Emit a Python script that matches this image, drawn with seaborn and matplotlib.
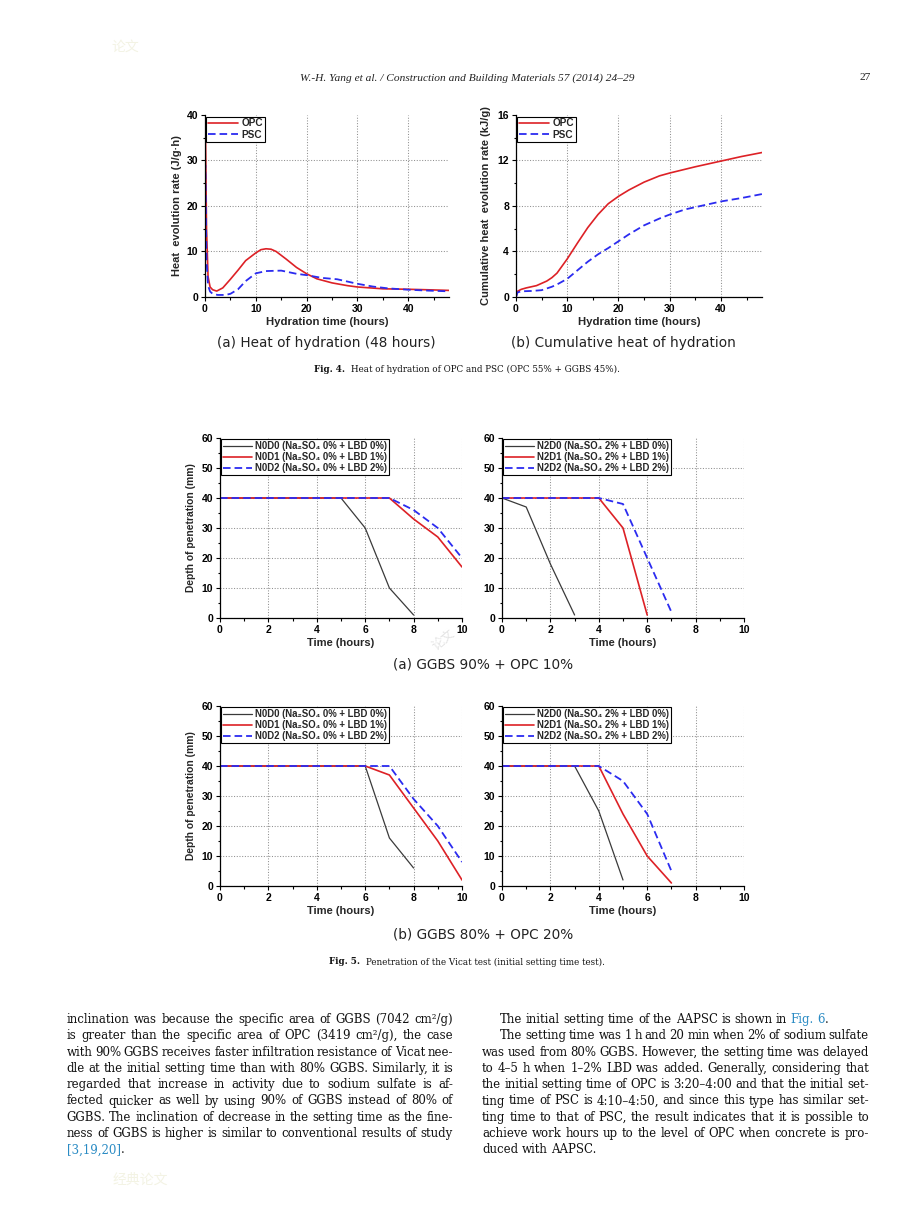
import pandas as pd
import matplotlib
matplotlib.use('Agg')
import matplotlib.pyplot as plt
import seaborn as sns
from matplotlib.ticker import MultipleLocator

# Fig. 4 (a) heat evolution rate (J/g.h)
t_rate_opc = [0, 0.05, 0.15, 0.3, 0.6, 1.0, 1.5, 2.3, 3.5, 5, 6.5, 8, 10, 11, 12, 13, 14, 16, 18, 20, 22, 25, 28, 30, 35, 40, 45, 48]
rate_opc = [0, 39, 30, 15, 4.5, 2.2, 1.6, 1.3, 2.0, 3.9, 5.9, 8.0, 9.7, 10.4, 10.6, 10.5, 10.0, 8.3, 6.5, 5.1, 4.0, 3.1, 2.5, 2.2, 1.8, 1.7, 1.55, 1.45]
t_rate_psc = [0, 0.05, 0.15, 0.3, 0.6, 1.0, 1.5, 2.5, 4, 5, 6.5, 8, 10, 12, 15, 18, 20, 23, 26, 28, 30, 33, 36, 40, 44, 48]
rate_psc = [0, 29, 20, 8, 2.5, 1.2, 0.7, 0.45, 0.45, 0.7, 1.7, 3.5, 5.2, 5.7, 5.8, 5.1, 4.8, 4.2, 3.9, 3.4, 2.9, 2.3, 1.9, 1.6, 1.4, 1.25]

# Fig. 4 (b) cumulative heat (kJ/g)
t_cum_opc = [0, 0.3, 1, 2, 4, 5, 6, 7, 8, 10, 12, 14, 16, 18, 20, 22, 25, 28, 30, 35, 40, 44, 48]
cum_opc = [0, 0.5, 0.67, 0.8, 1.0, 1.2, 1.4, 1.7, 2.1, 3.35, 4.75, 6.1, 7.25, 8.2, 8.85, 9.4, 10.1, 10.65, 10.9, 11.45, 11.95, 12.35, 12.7]
t_cum_psc = [0, 0.3, 1, 3, 5, 7, 8, 10, 12, 14, 16, 18, 20, 22, 25, 28, 30, 33, 36, 40, 44, 48]
cum_psc = [0, 0.4, 0.5, 0.53, 0.6, 0.9, 1.1, 1.6, 2.35, 3.1, 3.75, 4.3, 4.9, 5.5, 6.3, 6.9, 7.25, 7.7, 8.0, 8.4, 8.7, 9.05]

# Fig. 5 Vicat penetration depth (mm) vs time (hours)
g90_n0d0_t = [0, 5, 6, 7, 8]
g90_n0d0 = [40, 40, 30, 10, 1]
g90_n0d1_t = [0, 7, 8, 9, 10]
g90_n0d1 = [40, 40, 33, 27, 17]
g90_n0d2_t = [0, 7, 8, 9, 10]
g90_n0d2 = [40, 40, 36, 30, 20]
g90_n2d0_t = [0, 1, 2, 3]
g90_n2d0 = [40, 37, 18, 1]
g90_n2d1_t = [0, 4, 5, 6]
g90_n2d1 = [40, 40, 30, 1]
g90_n2d2_t = [0, 4, 5, 6, 7]
g90_n2d2 = [40, 40, 38, 20, 2]

g80_n0d0_t = [0, 6, 7, 8]
g80_n0d0 = [40, 40, 16, 6]
g80_n0d1_t = [0, 6, 7, 8, 9, 10]
g80_n0d1 = [40, 40, 37, 26, 15, 2]
g80_n0d2_t = [0, 7, 8, 9, 10]
g80_n0d2 = [40, 40, 29, 20, 8]
g80_n2d0_t = [0, 3, 4, 5]
g80_n2d0 = [40, 40, 25, 2]
g80_n2d1_t = [0, 4, 5, 6, 7]
g80_n2d1 = [40, 40, 24, 10, 1]
g80_n2d2_t = [0, 4, 5, 6, 7]
g80_n2d2 = [40, 40, 35, 24, 5]

n0_labels = ['N0D0 (Na\u2082SO\u2084 0% + LBD 0%)', 'N0D1 (Na\u2082SO\u2084 0% + LBD 1%)', 'N0D2 (Na\u2082SO\u2084 0% + LBD 2%)']
n2_labels = ['N2D0 (Na\u2082SO\u2084 2% + LBD 0%)', 'N2D1 (Na\u2082SO\u2084 2% + LBD 1%)', 'N2D2 (Na\u2082SO\u2084 2% + LBD 2%)']

left_par = [
    'inclination was because the specific area of GGBS (7042 cm\u00b2/g)',
    'is greater than the specific area of OPC (3419 cm\u00b2/g), the case',
    'with 90% GGBS receives faster infiltration resistance of Vicat nee-',
    'dle at the initial setting time than with 80% GGBS. Similarly, it is',
    'regarded that increase in activity due to sodium sulfate is af-',
    'fected quicker as well by using 90% of GGBS instead of 80% of',
    'GGBS. The inclination of decrease in the setting time as the fine-',
    'ness of GGBS is higher is similar to conventional results of study',
    '@[3,19,20]|.',
]
right_par = [
    'The initial setting time of the AAPSC is shown in @Fig. @6|.',
    'The setting time was 1 h and 20 min when 2% of sodium sulfate',
    'was used from 80% GGBS. However, the setting time was delayed',
    'to 4\u20135 h when 1\u20132% LBD was added. Generally, considering that',
    'the initial setting time of OPC is 3:20\u20134:00 and that the initial set-',
    'ting time of PSC is 4:10\u20134:50, and since this type has similar set-',
    'ting time to that of PSC, the result indicates that it is possible to',
    'achieve work hours up to the level of OPC when concrete is pro-',
    'duced with AAPSC.',
]

RED = '#dd2126'
BLUE = '#2b2bf0'
DARK = '#3a3a3a'
LINK = '#2a8bc4'
W, H = 920, 1227

sns.set_theme(style='ticks')
plt.rcParams['font.family'] = ['Liberation Sans', 'DejaVu Sans']
plt.rcParams['font.weight'] = 'bold'
plt.rcParams['axes.labelweight'] = 'bold'

fig = plt.figure(figsize=(9.2, 12.27), dpi=100)
fig.patch.set_facecolor('white')


def box(x0, y0, x1, y1):
    # pixel box (top-left origin) -> figure fraction rect
    return [x0 / W, 1 - y1 / H, (x1 - x0) / W, (y1 - y0) / H]


def style_axes(ax, xmax, xmaj, xmin, ymax, ymaj, ymin):
    ax.set_xlim(0, xmax)
    ax.set_ylim(0, ymax)
    ax.xaxis.set_major_locator(MultipleLocator(xmaj))
    ax.xaxis.set_minor_locator(MultipleLocator(xmin))
    ax.yaxis.set_major_locator(MultipleLocator(ymaj))
    ax.yaxis.set_minor_locator(MultipleLocator(ymin))
    ax.grid(True, which='major', color='#909090', linestyle=(0, (1, 1.6)), linewidth=0.75)
    ax.set_facecolor('white')
    for side in ['top', 'right']:
        ax.spines[side].set_visible(False)
    for side in ['left', 'bottom']:
        ax.spines[side].set_color('black')
        ax.spines[side].set_linewidth(0.9)
    ax.tick_params(which='both', direction='out', colors='black', labelsize=7.5, width=0.8, pad=2)
    ax.tick_params(which='major', length=3)
    ax.tick_params(which='minor', length=1.8)
    ax.set_axisbelow(True)
    # no dotted line along the top edge
    fig.canvas.draw()
    for tk in ax.yaxis.get_major_ticks():
        if abs(tk.get_loc() - ymax) < 1e-6:
            tk.gridline.set_visible(False)


def add_legend(ax, fs):
    leg = ax.legend(loc='upper left', frameon=True, fancybox=False, edgecolor='black',
                    fontsize=fs, handlelength=3.0, handletextpad=0.3, borderpad=0.2,
                    labelspacing=0.1, borderaxespad=0.15, framealpha=1)
    leg.get_frame().set_linewidth(0.8)


def draw(ax, t, v, color, lw, label, dashed=False):
    ls = (0, (4.2, 2.2)) if dashed else '-'
    sns.lineplot(x=t, y=v, ax=ax, color=color, linewidth=lw, linestyle=ls,
                 label=label, sort=False, estimator=None)


# ---- Fig. 4 ----
ax = fig.add_axes(box(205, 115, 449, 297))
draw(ax, t_rate_opc, rate_opc, RED, 1.2, 'OPC')
draw(ax, t_rate_psc, rate_psc, BLUE, 1.3, 'PSC', dashed=True)
style_axes(ax, 48, 10, 5, 40, 10, 5)
ax.set_xlabel('Hydration time (hours)', fontsize=8.2, labelpad=2)
ax.set_ylabel('Heat  evolution rate (J/g\u00b7h)', fontsize=8, labelpad=3)
add_legend(ax, 7.2)

ax = fig.add_axes(box(516, 115, 762, 297))
draw(ax, t_cum_opc, cum_opc, RED, 1.2, 'OPC')
draw(ax, t_cum_psc, cum_psc, BLUE, 1.3, 'PSC', dashed=True)
style_axes(ax, 48, 10, 5, 16, 4, 2)
ax.set_xlabel('Hydration time (hours)', fontsize=8.2, labelpad=2)
ax.set_ylabel('Cumulative heat  evolution rate (kJ/g)', fontsize=8, labelpad=5)
add_legend(ax, 7.2)

# ---- Fig. 5 ----
panels = [
    (box(220, 438, 462, 618), [(g90_n0d0_t, g90_n0d0), (g90_n0d1_t, g90_n0d1), (g90_n0d2_t, g90_n0d2)], n0_labels, True),
    (box(502, 438, 744, 618), [(g90_n2d0_t, g90_n2d0), (g90_n2d1_t, g90_n2d1), (g90_n2d2_t, g90_n2d2)], n2_labels, False),
    (box(220, 706, 462, 886), [(g80_n0d0_t, g80_n0d0), (g80_n0d1_t, g80_n0d1), (g80_n0d2_t, g80_n0d2)], n0_labels, True),
    (box(502, 706, 744, 886), [(g80_n2d0_t, g80_n2d0), (g80_n2d1_t, g80_n2d1), (g80_n2d2_t, g80_n2d2)], n2_labels, False),
]
for rect, series, labels, with_ylabel in panels:
    ax = fig.add_axes(rect)
    draw(ax, series[0][0], series[0][1], DARK, 0.9, labels[0])
    draw(ax, series[1][0], series[1][1], RED, 1.2, labels[1])
    draw(ax, series[2][0], series[2][1], BLUE, 1.3, labels[2], dashed=True)
    style_axes(ax, 10, 2, 1, 60, 10, 5)
    ax.set_xlabel('Time (hours)', fontsize=8, labelpad=2)
    if with_ylabel:
        ax.set_ylabel('Depth of penetration (mm)', fontsize=7.4, labelpad=4)
    add_legend(ax, 6.9)


# ---- page text ----
def ptext(x, y, s, **kw):
    return fig.text(x / W, 1 - y / H, s, **kw)


serif = ['DejaVu Serif']
ptext(467, 78, 'W.-H. Yang et al. / Construction and Building Materials 57 (2014) 24\u201329',
      ha='center', va='center', fontsize=8.2, style='italic', weight='normal',
      family=['Liberation Serif'], color='#222222')
ptext(865, 78, '27', ha='center', va='center', fontsize=8.2, weight='normal',
      family=['Liberation Serif'], color='#222222')

for xx, yy, s in [(326, 343, '(a) Heat of hydration (48 hours)'),
                  (623, 343, '(b) Cumulative heat of hydration'),
                  (483, 665, '(a) GGBS 90% + OPC 10%'),
                  (483, 935, '(b) GGBS 80% + OPC 20%')]:
    ptext(xx, yy, s, ha='center', va='center', fontsize=9.8, weight='normal',
          family='DejaVu Sans', color='#222222')

for yy, tag, rest in [(369, 'Fig. 4.', 'Heat of hydration of OPC and PSC (OPC 55% + GGBS 45%).'),
                      (962, 'Fig. 5.', 'Penetration of the Vicat test (initial setting time test).')]:
    renderer = fig.canvas.get_renderer()
    a = ptext(0, yy, tag, va='center', fontsize=6.3, weight='bold', family=serif, color='#111111')
    b = ptext(0, yy, rest, va='center', fontsize=6.3, weight='normal', family=serif, color='#111111')
    wa = a.get_window_extent(renderer).width
    wb = b.get_window_extent(renderer).width
    x0 = 467 - (wa + 6 + wb) / 2
    a.set_x(x0 / W)
    b.set_x((x0 + wa + 6) / W)

# faint watermarks from the scan
cjk = ['Noto Sans CJK SC', 'DejaVu Sans']
ptext(125, 47, '\u8bba\u6587', ha='center', va='center', fontsize=10, family=cjk, weight='normal', color='#f3f3e4')
ptext(140, 1180, '\u7ecf\u5178\u8bba\u6587', ha='center', va='center', fontsize=10, family=cjk, weight='normal', color='#f3f3e4')
ptext(444, 640, '\u8bba\u6587', ha='center', va='center', fontsize=9, family=cjk, weight='normal',
      color='#e4e4e4', rotation=40)

BODY = 8.45


def body_line(x0, x1, base, line, justify):
    renderer = fig.canvas.get_renderer()
    words = []
    for w in line.split(' '):
        segs = []
        if w.startswith('@'):
            body, _, tail = w[1:].partition('|')
            segs.append((body, LINK))
            if tail:
                segs.append((tail, '#111111'))
        else:
            segs.append((w, '#111111'))
        items = []
        for s, c in segs:
            t = ptext(0, base, s, va='baseline', ha='left', fontsize=BODY, weight='normal', family=serif, color=c)
            items.append((t, t.get_window_extent(renderer).width))
        words.append(items)
    widths = [sum(wd for _, wd in items) for items in words]
    space = BODY * 100 / 72 * 0.3
    if justify and len(words) > 1:
        space = (x1 - x0 - sum(widths)) / (len(words) - 1)
    x = x0
    for items, wsum in zip(words, widths):
        xx = x
        for t, wd in items:
            t.set_x(xx / W)
            xx += wd
        x += wsum + space


for i, line in enumerate(left_par):
    body_line(66.7, 453, 1023 + i * 16.3, line, i < len(left_par) - 1)
for i, line in enumerate(right_par):
    x0 = 500 if i < 2 else 482
    body_line(x0, 869, 1023 + i * 16.3, line, 0 < i < len(right_par) - 1)

fig.savefig('out.png', dpi=100, facecolor='white')
